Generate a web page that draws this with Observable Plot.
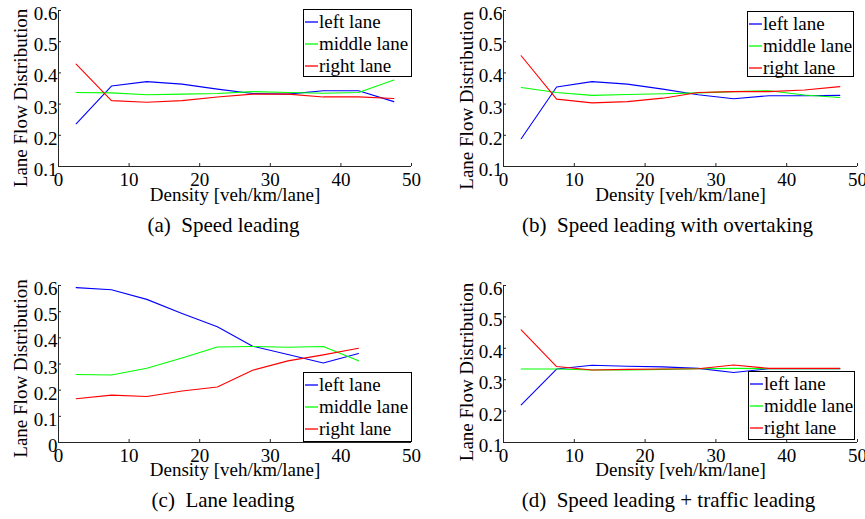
<!DOCTYPE html>
<html>
<head>
<meta charset="utf-8">
<script src="https://cdn.jsdelivr.net/npm/d3@7"></script>
<script src="https://cdn.jsdelivr.net/npm/@observablehq/plot@0.6"></script>
<style>
  html, body { margin: 0; padding: 0; background: #fff; }
  #fig { position: relative; width: 865px; height: 519px; background: #fff; font-family: "Liberation Serif", "Times New Roman", serif; overflow: hidden; }
  .panel { position: absolute; }
  .legend { position: absolute; box-sizing: border-box; border: 1px solid #000; background: #fff; font-size: 19px; color: #000; padding-top: 1px; }
  .legend .row { position: relative; height: 22px; line-height: 22px; white-space: nowrap; padding-left: 15px; }
  .legend svg { position: absolute; left: 1px; top: 9px; }
</style>
</head>
<body>
<div id="fig"></div>
<script>
// ---------- data ----------
const density = [2.5, 7.5, 12.5, 17.5, 22.5, 27.5, 32.5, 37.5, 42.5, 47.5];
const densityC = [2.5, 7.5, 12.5, 17.5, 22.5, 27.5, 32.5, 37.5, 42.5];

const lanes = ["left lane", "middle lane", "right lane"];
const laneColors = ["#0000ff", "#00ff00", "#ff0000"];

// (a) Speed leading
const aLeft   = [0.237, 0.358, 0.372, 0.364, 0.348, 0.334, 0.332, 0.343, 0.343, 0.308];
const aMiddle = [0.337, 0.336, 0.330, 0.332, 0.334, 0.340, 0.337, 0.335, 0.337, 0.377];
const aRight  = [0.428, 0.311, 0.306, 0.311, 0.323, 0.332, 0.332, 0.323, 0.323, 0.318];

// (b) Speed leading with overtaking
const bLeft   = [0.189, 0.355, 0.372, 0.364, 0.348, 0.330, 0.317, 0.327, 0.327, 0.328];
const bMiddle = [0.353, 0.337, 0.328, 0.331, 0.333, 0.336, 0.340, 0.343, 0.329, 0.321];
const bRight  = [0.455, 0.316, 0.304, 0.308, 0.319, 0.337, 0.340, 0.340, 0.345, 0.356];

// (c) Lane leading
const cLeft   = [0.592, 0.584, 0.547, 0.493, 0.442, 0.368, 0.336, 0.304, 0.340];
const cMiddle = [0.260, 0.258, 0.284, 0.323, 0.365, 0.367, 0.364, 0.367, 0.312];
const cRight  = [0.167, 0.181, 0.176, 0.197, 0.212, 0.276, 0.312, 0.335, 0.360];

// (d) Speed leading + traffic leading
const dLeft   = [0.220, 0.334, 0.346, 0.343, 0.341, 0.336, 0.323, 0.335, 0.335, 0.335];
const dMiddle = [0.334, 0.334, 0.331, 0.331, 0.333, 0.335, 0.336, 0.335, 0.335, 0.335];
const dRight  = [0.459, 0.342, 0.331, 0.333, 0.334, 0.335, 0.347, 0.336, 0.336, 0.336];

const xTicks = [0, 10, 20, 30, 40, 50];
const yTicksAB = [0.1, 0.2, 0.3, 0.4, 0.5, 0.6];
const yTicksC = [0, 0.1, 0.2, 0.3, 0.4, 0.5, 0.6];

const xLabel = "Density [veh/km/lane]";
const yLabel = "Lane Flow Distribution";
const captions = ["(a)\u2002Speed leading", "(b)\u2002Speed leading with overtaking", "(c)\u2002Lane leading", "(d)\u2002Speed leading + traffic leading"];

// ---------- layout ----------
const panels = [
  {x: density,  series: [aLeft, aMiddle, aRight], yDomain: [0.1, 0.6], yTicks: yTicksAB, caption: captions[0],
   left: 0, top: 0, width: 430, height: 240, mL: 58, mR: 19, mT: 10, mB: 74, yLabDx: -38, yLabDy: 9.5, capDx: -11.5, xLabBase: 34, capBase: 65.5,
   legend: {left: 303, top: 9, width: 109, height: 68}},
  {x: density,  series: [bLeft, bMiddle, bRight], yDomain: [0.1, 0.6], yTicks: yTicksAB, caption: captions[1],
   left: 430, top: 0, width: 435, height: 240, mL: 73, mR: 8, mT: 10, mB: 74, yLabDx: -37, yLabDy: 12, capDx: -13, xLabBase: 34, capBase: 65.5,
   legend: {left: 747, top: 11, width: 107, height: 66}},
  {x: densityC, series: [cLeft, cMiddle, cRight], yDomain: [0, 0.6], yTicks: yTicksC, caption: captions[2],
   left: 0, top: 260, width: 430, height: 259, mL: 58, mR: 19, mT: 25, mB: 77, yLabDx: -38, yLabDy: 4.5, capDx: -12, xLabBase: 33, capBase: 64,
   legend: {left: 303, top: 372, width: 109, height: 70}},
  {x: density,  series: [dLeft, dMiddle, dRight], yDomain: [0.1, 0.6], yTicks: yTicksAB, caption: captions[3],
   left: 430, top: 260, width: 435, height: 259, mL: 73, mR: 8, mT: 25, mB: 77, yLabDx: -37, yLabDy: 8, capDx: -12, xLabBase: 33, capBase: 64,
   legend: {left: 748, top: 371, width: 107, height: 69}}
];

const fig = document.getElementById("fig");
const fmtY = d => d === 0 ? "0" : d3.format(".1f")(d);
const axisColor = "#262626";
const SVGNS = "http://www.w3.org/2000/svg";

for (const p of panels) {
  const rows = [];
  p.series.forEach((vals, i) => vals.forEach((v, j) => rows.push({lane: lanes[i], d: p.x[j], v})));

  const chart = Plot.plot({
    width: p.width,
    height: p.height,
    marginLeft: p.mL, marginRight: p.mR, marginTop: p.mT, marginBottom: p.mB,
    style: {fontFamily: "'Liberation Serif', 'Times New Roman', serif", fontSize: "19px", color: "#000", background: "transparent", overflow: "visible"},
    x: {domain: [0, 50]},
    y: {domain: p.yDomain},
    color: {domain: lanes, range: laneColors},
    marks: [
      Plot.line(rows, {x: "d", y: "v", z: "lane", stroke: "lane", strokeWidth: 1.1}),
      Plot.ruleX([0], {stroke: axisColor, strokeWidth: 1}),
      Plot.ruleY([p.yDomain[0]], {stroke: axisColor, strokeWidth: 1}),
      Plot.axisY(p.yTicks, {tickSize: -3, fill: "none", stroke: axisColor, label: null}),
      Plot.axisX(xTicks, {tickSize: -3, fill: "none", stroke: axisColor, label: null}),
      Plot.axisY(p.yTicks, {tickSize: 0, tickPadding: 1, dy: 3.5, tickFormat: fmtY, fill: "#000", label: null}),
      Plot.axisX(xTicks, {tickSize: 0, tickPadding: 5.5, tickFormat: d3.format("d"), fill: "#000", label: null}),
      Plot.text([yLabel], {frameAnchor: "left", textAnchor: "middle", rotate: -90, dx: p.yLabDx, dy: p.yLabDy, fill: "#000", fontSize: 19}),
      Plot.text([xLabel], {frameAnchor: "bottom", textAnchor: "middle", lineAnchor: "top", dy: p.xLabBase - 13.5, fill: "#000", fontSize: 19}),
      Plot.text([p.caption], {frameAnchor: "bottom", textAnchor: "middle", lineAnchor: "top", dx: p.capDx, dy: p.capBase - 14.9, fill: "#000", fontSize: 21})
    ]
  });
  const wrap = document.createElement("div");
  wrap.className = "panel";
  wrap.style.left = p.left + "px";
  wrap.style.top = p.top + "px";
  wrap.appendChild(chart);
  fig.appendChild(wrap);

  const lg = document.createElement("div");
  lg.className = "legend";
  Object.assign(lg.style, {left: p.legend.left + "px", top: p.legend.top + "px", width: p.legend.width + "px", height: p.legend.height + "px"});
  lanes.forEach((name, i) => {
    const r = document.createElement("div");
    r.className = "row";
    const sw = document.createElementNS(SVGNS, "svg");
    sw.setAttribute("width", "14");
    sw.setAttribute("height", "4");
    const ln = document.createElementNS(SVGNS, "line");
    ln.setAttribute("x1", "0"); ln.setAttribute("x2", "13");
    ln.setAttribute("y1", "2"); ln.setAttribute("y2", "2");
    ln.setAttribute("stroke", laneColors[i]);
    ln.setAttribute("stroke-width", "1.3");
    sw.appendChild(ln);
    r.appendChild(sw);
    r.appendChild(document.createTextNode(name));
    lg.appendChild(r);
  });
  fig.appendChild(lg);
}
</script>
</body>
</html>
